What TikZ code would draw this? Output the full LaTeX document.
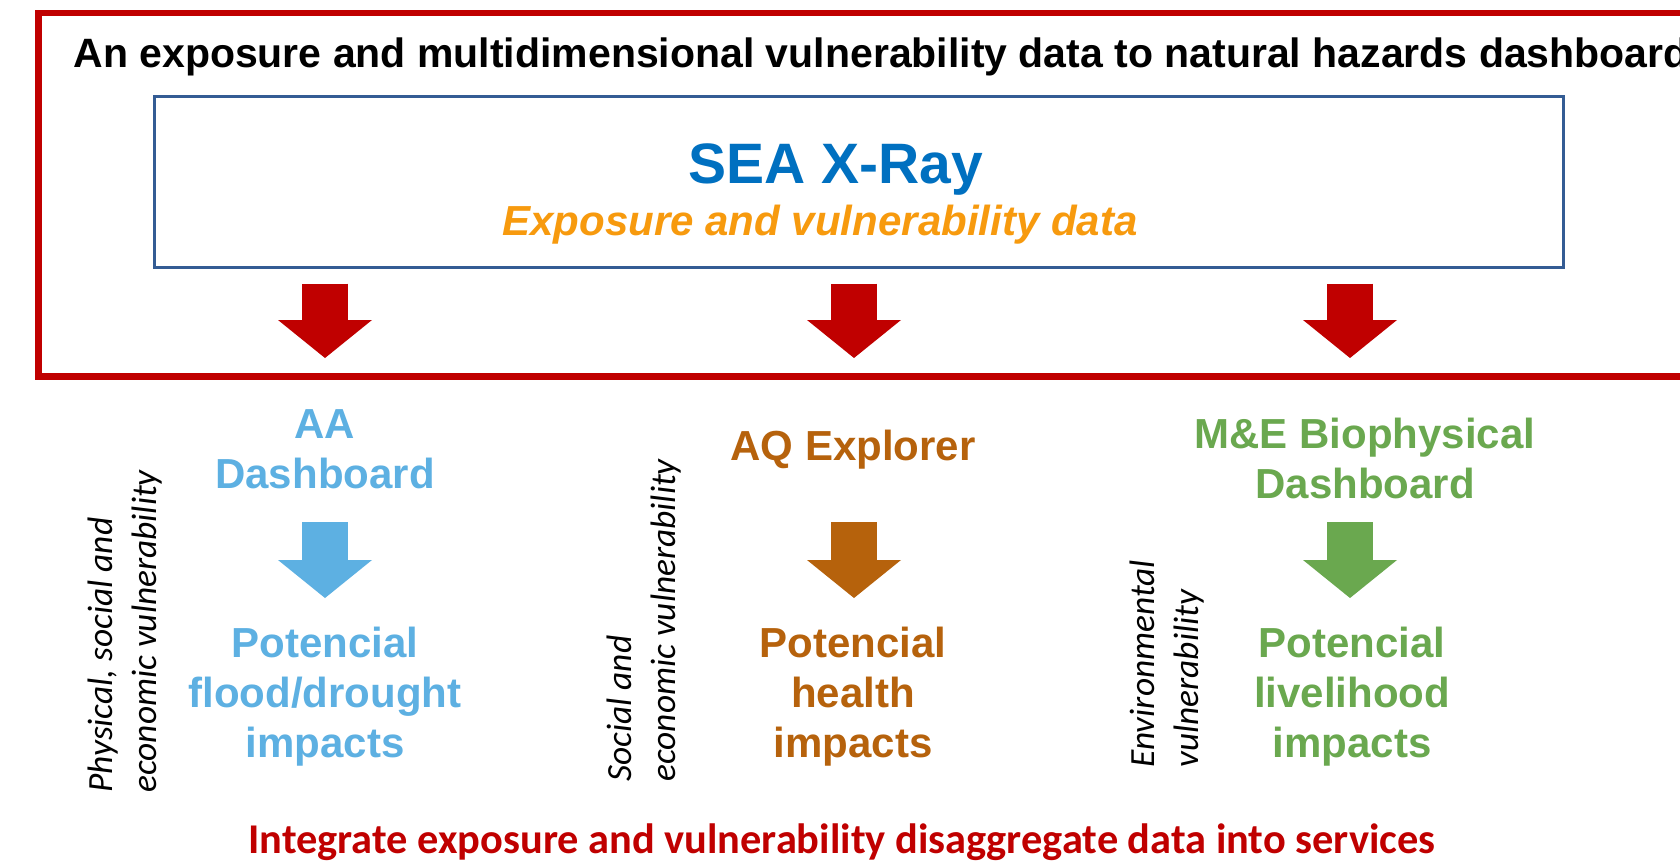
\documentclass[tikz,border=0pt]{standalone}
\usepackage{fontspec}
\setmainfont{Liberation Sans}
\newfontfamily\calibri{Carlito}
\usetikzlibrary{arrows.meta, positioning}

\definecolor{frame red}{RGB}{192,0,0}
\definecolor{box blue}{RGB}{52,92,148}
\definecolor{xray blue}{RGB}{0,112,192}
\definecolor{data orange}{RGB}{247,154,14}
\definecolor{aa blue}{RGB}{93,176,226}
\definecolor{aq brown}{RGB}{182,98,12}
\definecolor{me green}{RGB}{106,168,79}

\begin{document}
\begin{tikzpicture}[x=0.5pt, y=-0.5pt,
        bigtext/.style={inner sep=0pt, align=center, anchor=base, font=\fontsize{21}{25}\selectfont\bfseries},
        sidetext/.style={inner sep=0pt, align=left, rotate=90, anchor=north west, font=\calibri\fontsize{17.7}{22}\selectfont\itshape},
        blockarr/.style={line width=23pt, -{Triangle[width=47pt, length=19pt, line width=0pt]}}]
            \useasboundingbox (0,0) rectangle (1680,863);
            \fill[white] (0,0) rectangle (1680,863);
            % outer frame and title
            \draw[frame red, line width=3.25pt] (38.5,13) rectangle (1720,376.5);
            \node[anchor=base west, inner sep=0pt, font=\fontsize{20.5}{24}\selectfont\bfseries] (title) at (73,67) {An exposure and multidimensional vulnerability data to natural hazards dashboard};
            % SEA X-Ray box
            \node[draw=box blue, line width=1.5pt, minimum width=704.5pt, minimum height=85.5pt, inner sep=0pt] (xray) at (858.5,181.5) {};
            \node[anchor=base, inner sep=0pt, text=xray blue, font=\fontsize{28.5}{30}\selectfont\bfseries] (xraytitle) at (836,183) {SEA X-Ray};
            \node[anchor=base, inner sep=0pt, text=data orange, font=\fontsize{21}{24}\selectfont\bfseries\itshape] (xraydata) at (820,235) {Exposure and vulnerability data};
            % arrow ends
            \foreach \n/\x in {aa/325, aq/854, me/1350} {
                \coordinate (redtip-\n) at (\x,358);
                \coordinate (top-\n) at (\x,522);
                \coordinate (tip-\n) at (\x,598);
            }
            \draw[blockarr, frame red, shorten <=7.5pt] (xray.south -| redtip-aa) -- (redtip-aa);
            \draw[blockarr, frame red, shorten <=7.5pt] (xray.south -| redtip-aq) -- (redtip-aq);
            \draw[blockarr, frame red, shorten <=7.5pt] (xray.south -| redtip-me) -- (redtip-me);
            % dashboards (base = last line)
            \node[bigtext, text=aa blue] (aa) at (325,488) {AA\\Dashboard};
            \node[bigtext, text=aq brown] (aq) at (853,460) {AQ Explorer};
            \node[bigtext, text=me green] (me) at (1365,498) {M\&E Biophysical\\Dashboard};
            \draw[blockarr, aa blue] (top-aa) -- (tip-aa);
            \draw[blockarr, aq brown] (top-aq) -- (tip-aq);
            \draw[blockarr, me green] (top-me) -- (tip-me);
            \node[bigtext, text=aa blue] (floodimp) at (325,757) {Potencial\\flood/drought\\impacts};
            \node[bigtext, text=aq brown] (healthimp) at (853,757) {Potencial\\health\\impacts};
            \node[bigtext, text=me green] (liveimp) at (1352,757) {Potencial\\livelihood\\impacts};
            % vulnerability notes
            \node[sidetext] (physvul) at (88,793) {Physical, social and\\economic vulnerability};
            \node[sidetext] (socvul) at (607,782) {Social and\\economic vulnerability};
            \node[sidetext] (envvul) at (1130,768) {Environmental\\vulnerability};
            \node[anchor=base, inner sep=0pt, text=frame red, font=\calibri\fontsize{21.2}{24}\selectfont\bfseries] (integ) at (842,853) {Integrate exposure and vulnerability disaggregate data into services};
        \end{tikzpicture}
\end{document}
